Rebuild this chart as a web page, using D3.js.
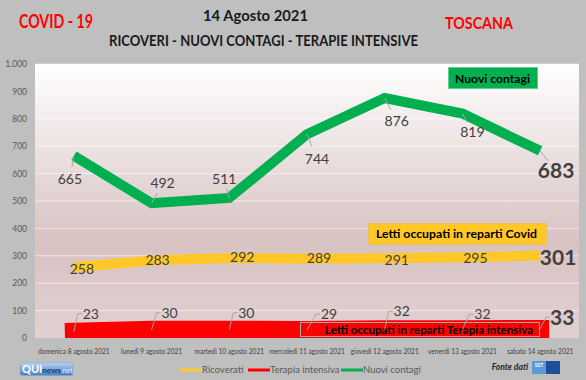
<!DOCTYPE html>
<html><head><meta charset="utf-8">
<script src="https://cdn.jsdelivr.net/npm/d3@7"></script>
<style>body{margin:0;background:#bfbfbf} svg{display:block}</style>
</head><body><svg id="c" width="586" height="380"></svg>
<script>
const categories = ["domenica 8 agosto 2021","lunedì 9 agosto 2021","martedì 10 agosto 2021","mercoledì 11 agosto 2021","giovedì 12 agosto 2021","venerdì 13 agosto 2021","sabato 14 agosto 2021"];
const ricoverati = [258,283,292,289,291,295,301];
const terapiaIntensiva = [23,30,30,29,32,32,33];
const nuoviContagi = [665,492,511,744,876,819,683];
const yTicks = [0,100,200,300,400,500,600,700,800,900,1000];
const yTickLabels = ["0","100","200","300","400","500","600","700","800","900","1.000"];
const seriesNames = ["Ricoverati","Terapia intensiva","Nuovi contagi"];

// layout: label offsets from each point (px)
const greenOff = [[-4,23],[11,-20],[-5,-19],[10,25],[12,23],[10,18],[16,20]];
const yellowOff = [[8,2],[6,0],[13,-1],[12,-1],[12,2],[13,1],[18,2]];
const redOff = [[17,-18],[18,-17],[17,-17],[22,-16],[17,-18],[20,-15],[22,-12]];

const svg = d3.select("#c");
const F = "Lato, 'Open Sans', sans-serif";
const L = 35, R = 579, T = 64, B = 338;
const x = d3.scaleBand().domain(categories).range([L, R]);
const y = d3.scaleLinear().domain([0, 1000]).range([B, T]);
const cx = d => x(d) + x.bandwidth() / 2;

svg.append("rect").attr("width",586).attr("height",380).attr("fill","#bfbfbf");

const defs = svg.append("defs");
const g1 = defs.append("linearGradient").attr("id","pg").attr("x1",0).attr("y1",0).attr("x2",0).attr("y2",1);
g1.append("stop").attr("offset","0%").attr("stop-color","#ffffff");
g1.append("stop").attr("offset","65%").attr("stop-color","#d8c2c2");
g1.append("stop").attr("offset","100%").attr("stop-color","#e2d1d1");
const g2 = defs.append("linearGradient").attr("id","lg").attr("x1",0).attr("y1",0).attr("x2",0).attr("y2",1);
g2.append("stop").attr("offset","0%").attr("stop-color","#b9d3f0");
g2.append("stop").attr("offset","100%").attr("stop-color","#4a7dc2");
defs.append("clipPath").attr("id","clip").append("rect").attr("x",L).attr("y",T).attr("width",R-L).attr("height",B-T);

svg.append("rect").attr("x",L).attr("y",T).attr("width",R-L).attr("height",B-T).attr("fill","url(#pg)");

// grid
svg.append("g").selectAll("line").data(yTicks.slice(1)).join("line")
  .attr("x1",L).attr("x2",R).attr("y1",d=>y(d)).attr("y2",d=>y(d))
  .attr("stroke","#ffffff").attr("stroke-opacity",0.55).attr("stroke-width",1);

// y axis
const yAxis = d3.axisLeft(y).tickValues(yTicks).tickFormat((d,i)=>yTickLabels[i]).tickSize(0).tickPadding(8);
const ya = svg.append("g").attr("transform",`translate(${L},0)`).call(yAxis);
ya.select(".domain").remove();
ya.selectAll("text").attr("font-family",F).attr("font-size",8.5).attr("fill","#595959");

// x axis
const xAxis = d3.axisBottom(x).tickSize(0).tickPadding(0);
const xa = svg.append("g").attr("transform",`translate(0,${B})`).call(xAxis);
xa.select(".domain").remove();
xa.selectAll("text").attr("font-family",F).attr("font-size",6.6).attr("fill","#404040").attr("dy",0).attr("y",16);

const line = d3.line().x((d,i)=>cx(categories[i])).y(d=>y(d));
const plot = svg.append("g").attr("clip-path","url(#clip)");

// red
plot.append("path").attr("d",line(terapiaIntensiva)).attr("fill","none").attr("stroke","#ff0000")
  .attr("stroke-width",18).attr("stroke-linecap","square");
// yellow
plot.append("path").attr("d",line(ricoverati)).attr("fill","none").attr("stroke","#ffc826").attr("stroke-width",10);
// green
plot.append("path").attr("d",line(nuoviContagi)).attr("fill","none").attr("stroke","#00b050").attr("stroke-width",10);

// annotation boxes
function box(x0,y0,w,h,fill,stroke,txt,tx,tb,tl){
  svg.append("rect").attr("x",x0).attr("y",y0).attr("width",w).attr("height",h).attr("fill",fill).attr("stroke",stroke).attr("stroke-width",1);
  svg.append("text").attr("x",tx).attr("y",tb).attr("font-family",F).attr("font-weight","bold").attr("font-size",11.5)
    .attr("fill","#000").attr("textLength",tl).attr("lengthAdjust","spacingAndGlyphs").text(txt);
}
box(448.5,67.5,89,21,"#00b050","#5fcf8f","Nuovi contagi",455,83,75);
box(368.5,223.5,178,21,"#ffc826","#e8c060","Letti occupati in reparti Covid",376,238,161);
box(300.5,322.5,239,14,"#ff0000","#a8a8a8","Letti occupati in reparti Terapia intensiva",325,334,208);

// labels
const labG = svg.append("g").attr("font-family",F).attr("fill","#404040");
const last = categories.length - 1;
function labels(vals, off, leader){
  vals.forEach((v,i)=>{
    const px = cx(categories[i]), py = y(v);
    const lx = px + off[i][0], ly = py + off[i][1];
    const big = i === last;
    if (leader === "line") {
      labG.append("line").attr("x1",px).attr("y1",py).attr("x2",px+(lx-px)*0.5).attr("y2",py+(ly-py)*0.5)
        .attr("stroke","#a6a6a6").attr("stroke-width",1);
    } else if (leader === "bracket") {
      const hw = big ? 11 : 8;
      labG.append("polyline").attr("points",`${px},${py} ${lx-hw-5},${ly} ${lx-hw-1},${ly}`)
        .attr("fill","none").attr("stroke","#a6a6a6").attr("stroke-width",1);
    }
    labG.append("text").attr("x",lx).attr("y",ly).attr("dy","0.36em").attr("text-anchor","middle")
      .attr("font-size",big?21:14).attr("font-weight",big?"bold":"normal").text(v);
  });
}
labels(nuoviContagi, greenOff, "line");
labels(ricoverati, yellowOff, null);
labels(terapiaIntensiva, redOff, "bracket");

// titles
function t(txt,xx,yy,size,color,tl){
  svg.append("text").attr("x",xx).attr("y",yy).attr("font-family",F).attr("font-weight","bold").attr("font-size",size)
    .attr("fill",color).attr("textLength",tl).attr("lengthAdjust","spacingAndGlyphs").text(txt);
}
t("14 Agosto 2021",203,21,15.5,"#1a1a1a",105);
t("RICOVERI - NUOVI CONTAGI - TERAPIE INTENSIVE",109,46,15,"#1a1a1a",309);
t("COVID - 19",19,28,18,"#ff0000",74);
t("TOSCANA",445,29,17,"#ff0000",68);

// legend
const colors = ["#ffc826","#ff0000","#00b050"];
const legX = [180,248,341];
seriesNames.forEach((n,i)=>{
  svg.append("line").attr("x1",legX[i]).attr("x2",legX[i]+22).attr("y1",370).attr("y2",370).attr("stroke",colors[i]).attr("stroke-width",3);
  svg.append("text").attr("x",legX[i]+22).attr("y",372.5).attr("font-family",F).attr("font-size",9.5).attr("fill","#595959").text(n);
});

// QUInews logo
svg.append("rect").attr("x",20).attr("y",362.5).attr("width",53).attr("height",13).attr("rx",2).attr("fill","url(#lg)").attr("stroke","#7fa3d6").attr("stroke-width",0.5);
const lt = svg.append("text").attr("x",22).attr("y",373).attr("font-family",F).attr("font-weight","bold");
lt.append("tspan").attr("font-size",11).attr("fill","#ffffff").text("QUI");
lt.append("tspan").attr("font-size",8).attr("fill","#1f3a6a").text("news");
lt.append("tspan").attr("font-size",7).attr("fill","#e8f0ff").attr("font-weight","normal").text(".net");

// Fonte dati
svg.append("text").attr("x",528).attr("y",369.5).attr("text-anchor","end").attr("font-family",F).attr("font-style","italic")
  .attr("font-weight","bold").attr("font-size",8.5).attr("fill","#262626").text("Fonte dati");
svg.append("rect").attr("x",532).attr("y",361).attr("width",14).attr("height",13).attr("fill","#5b9bd5");
svg.append("rect").attr("x",546).attr("y",361).attr("width",14).attr("height",13).attr("fill","#1f4e9a");
svg.append("text").attr("x",539).attr("y",366.5).attr("text-anchor","middle").attr("font-family",F).attr("font-weight","bold").attr("font-size",5).attr("fill","#fff").text("SST");
</script></body></html>
